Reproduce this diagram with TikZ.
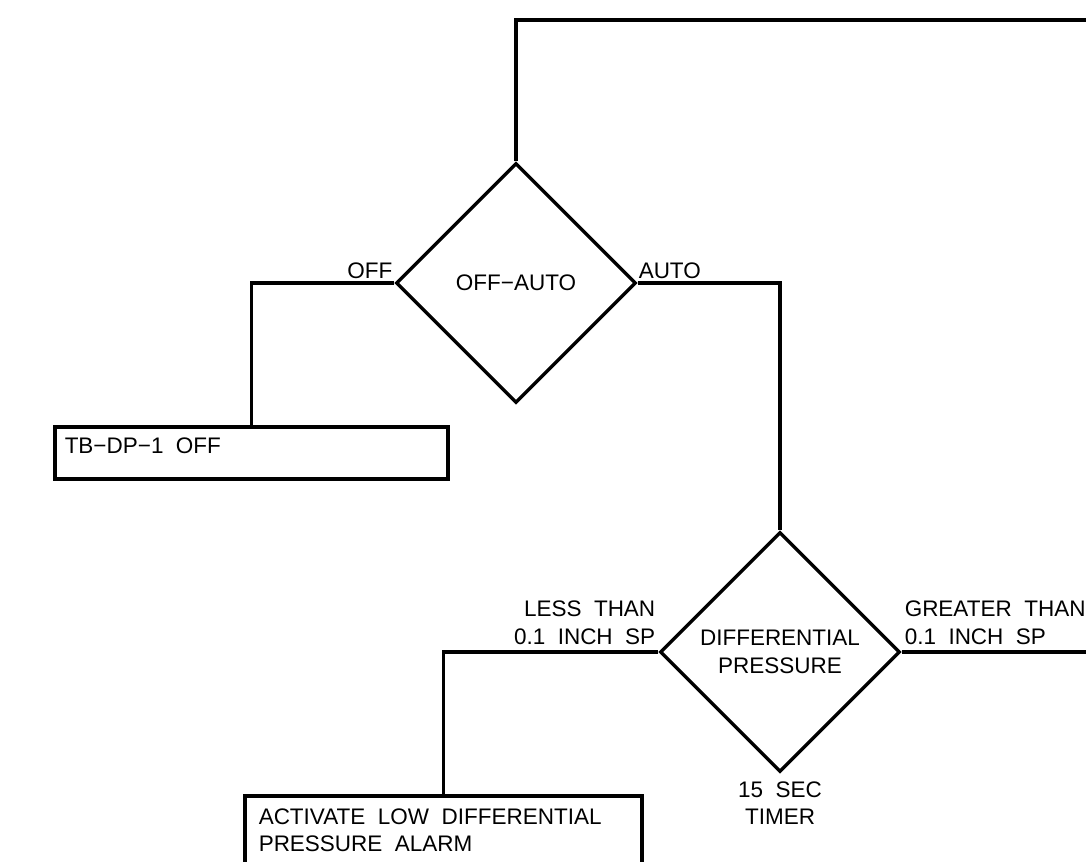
\documentclass[tikz,border=0pt]{standalone}
\usepackage{fontspec}
\setmainfont{Liberation Sans}
\usetikzlibrary{shapes.geometric}
\tikzset{
  dia/.style={diamond,draw,aspect=1,minimum width=4.8cm,minimum height=4.8cm,inner sep=0pt,align=center},
  bx/.style={rectangle,draw,inner sep=0pt},
  lbl/.style={inner sep=0pt},
  every node/.style={font=\fontsize{12.8}{15.6}\selectfont},
  every picture/.style={line width=2pt},
}
\begin{document}
\begin{tikzpicture}[x=0.02cm,y=-0.02cm]
\clip (0,0) rectangle (1086,862);
\node[dia] (sw) at (516,283) {OFF−AUTO};
\node[dia] (dp) at (780,652) {DIFFERENTIAL\\PRESSURE};
\node[bx,minimum width=7.86cm,minimum height=1.04cm] (off) at (251.5,453) {};
\node[bx,minimum width=7.94cm,minimum height=1.68cm] (alm) at (443.5,838) {};
\node[lbl,anchor=base west] (offt) at (63,453) {TB−DP−1~~OFF};
\node[lbl,anchor=north west,align=left] (almt) at (257,807) {ACTIVATE~~LOW~~DIFFERENTIAL\\PRESSURE~~ALARM};
\node[lbl,anchor=base east] (lo) at (394,278) {OFF};
\node[lbl,anchor=base west] (la) at (637,278) {AUTO};
\node[lbl,anchor=south east,align=right] (ll) at (657,646) {LESS~~THAN\\0.1~~INCH~~SP};
\node[lbl,anchor=south west,align=left] (lg) at (903,646) {GREATER~~THAN\\0.1~~INCH~~SP};
\node[lbl,anchor=north,align=center] (lt) at (780,780) {15~~SEC\\TIMER};
\coordinate (t1) at (1100,20); \coordinate (t2) at (1100,652);
\draw (sw.north) |- (t1);
\draw (sw.west) -| (off.north);
\draw (sw.east) -| (dp.north);
\draw (dp.west) -| (alm.north);
\draw (dp.east) -- (t2);
\end{tikzpicture}
\end{document}
